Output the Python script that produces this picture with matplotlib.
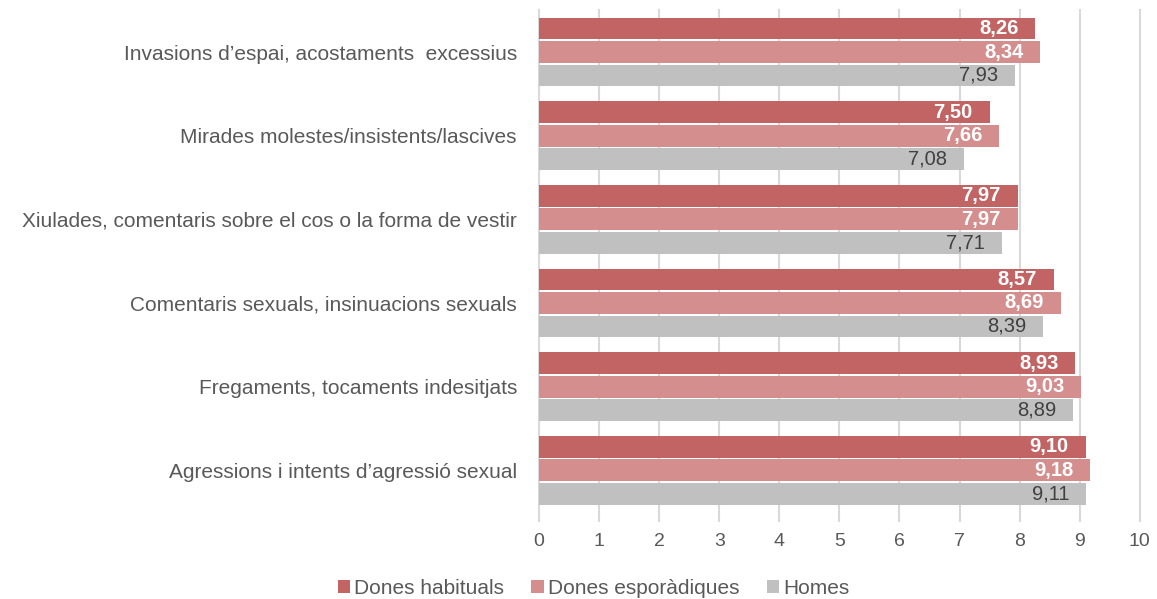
import matplotlib
matplotlib.use("Agg")
import matplotlib.pyplot as plt
import numpy as np

plt.rcParams['font.family'] = ['Liberation Sans', 'DejaVu Sans']

categories = [
    "Invasions d\u2019espai, acostaments  excessius",
    "Mirades molestes/insistents/lascives",
    "Xiulades, comentaris sobre el cos o la forma de vestir",
    "Comentaris sexuals, insinuacions sexuals",
    "Fregaments, tocaments indesitjats",
    "Agressions i intents d\u2019agressi\u00f3 sexual",
]
series_names = ["Dones habituals", "Dones espor\u00e0diques", "Homes"]
dones_habituals = [8.26, 7.50, 7.97, 8.57, 8.93, 9.10]
dones_esporadiques = [8.34, 7.66, 7.97, 8.69, 9.03, 9.18]
homes = [7.93, 7.08, 7.71, 8.39, 8.89, 9.11]

colors = ["#C26464", "#D48E8E", "#C0C0C0"]
label_styles = [("white", "bold"), ("white", "bold"), ("#404040", "normal")]

fig = plt.figure(figsize=(11.57, 5.99), dpi=100)
ax = fig.add_axes([0.466, 0.145, 0.519, 0.838])

y = np.arange(len(categories))
bar_h = 0.26
offsets = [-0.28, 0.0, 0.28]
for vals, name, col, off, (tc, fw) in zip(
        [dones_habituals, dones_esporadiques, homes], series_names, colors, offsets, label_styles):
    bars = ax.barh(y + off, vals, height=bar_h, color=col, label=name, zorder=3)
    for b, v in zip(bars, vals):
        ax.text(v - 0.28, b.get_y() + b.get_height() / 2, f"{v:.2f}".replace(".", ","),
                ha="right", va="center", color=tc, fontweight=fw, fontsize=14.5, zorder=4)

ax.set_ylim(len(categories) - 0.5, -0.5)
ax.set_xlim(0, 10)
ax.set_xticks(range(0, 11))
ax.set_yticks(y)
ax.set_yticklabels(categories, fontsize=15, color="#595959")
ax.tick_params(axis="y", length=0, pad=16)
ax.tick_params(axis="x", length=7, width=1.5, color="#D9D9D9", labelsize=14, labelcolor="#595959",
               pad=8, direction="out")
for gx in range(1, 11):
    ax.axvline(gx, color="#D9D9D9", linewidth=1.5, zorder=0, clip_on=False)
for s in ["top", "right", "bottom"]:
    ax.spines[s].set_visible(False)
ax.spines["left"].set_color("#D9D9D9")
ax.spines["left"].set_linewidth(1.5)

fig.legend(loc="lower center", bbox_to_anchor=(0.513, -0.03), ncol=3, frameon=False,
           fontsize=15, handlelength=0.6, handleheight=0.6, handletextpad=0.2,
           columnspacing=1.3, labelcolor="#595959")

fig.savefig("out.png", dpi=100)
